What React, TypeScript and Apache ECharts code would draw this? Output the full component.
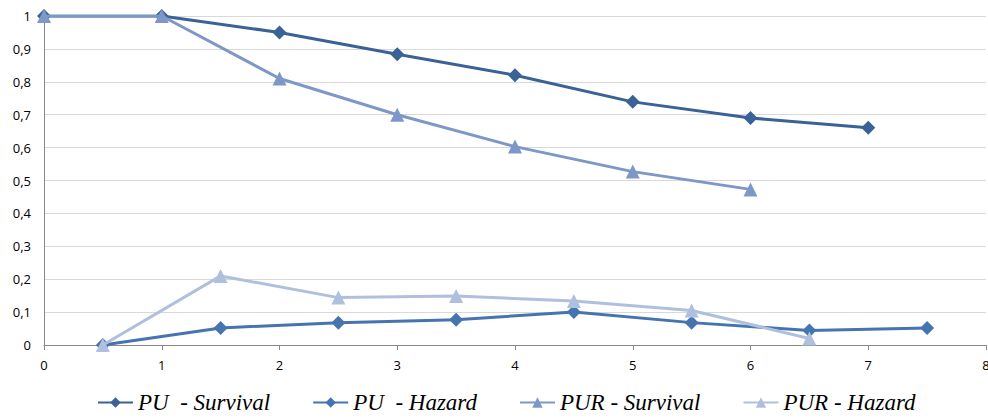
import React, { useEffect, useRef } from "react";
import * as echarts from "echarts";

const seriesNames = ["PU  - Survival", "PU  - Hazard", "PUR - Survival", "PUR - Hazard"];
const survivalX = [0, 1, 2, 3, 4, 5, 6, 7];
const hazardX = [0.5, 1.5, 2.5, 3.5, 4.5, 5.5, 6.5, 7.5];
const puSurvival = [1, 1, 0.95, 0.884, 0.82, 0.739, 0.69, 0.66];
const puHazard = [0, 0.052, 0.068, 0.077, 0.1, 0.068, 0.044, 0.052];
const purSurvival = [1, 1, 0.81, 0.7, 0.603, 0.527, 0.473];
const purHazard = [0, 0.21, 0.144, 0.149, 0.134, 0.105, 0.02];
const colors = ["#3A6296", "#4674B1", "#7D98C8", "#AFC0DE"];

const zip = (xs: number[], ys: number[]) => ys.map((y, i) => [xs[i], y]);

export default function App() {
  const ref = useRef<HTMLDivElement>(null);
  useEffect(() => {
    const chart = echarts.init(ref.current!, null, { renderer: "svg" });
    const mk = (i: number, data: number[][], symbol: string, size: number) => ({
      name: seriesNames[i],
      type: "line",
      data,
      symbol,
      symbolSize: size,
      showAllSymbol: true,
      lineStyle: { width: 3, color: colors[i] },
      itemStyle: { color: colors[i] },
      z: 2 + i,
    });
    chart.setOption({
      animation: false,
      color: colors,
      grid: {
        left: 44,
        right: 2,
        top: 16,
        bottom: 75,
        containLabel: false,
        outerBoundsMode: "none",
      },
      legend: {
        bottom: 1,
        left: 92,
        itemWidth: 35,
        itemHeight: 13,
        itemGap: 42,
        textStyle: {
          fontFamily: "Liberation Serif",
          fontStyle: "italic",
          fontSize: 23,
          color: "#000",
        },
        data: seriesNames,
      },
      xAxis: {
        type: "value",
        min: 0,
        max: 8,
        interval: 1,
        axisLine: { show: true, lineStyle: { color: "#888", width: 1 } },
        axisTick: { show: true, length: 5, lineStyle: { color: "#888" } },
        splitLine: { show: false },
        axisLabel: { fontFamily: "Open Sans", fontSize: 13, color: "#000", margin: 13 },
      },
      yAxis: {
        type: "value",
        min: 0,
        max: 1,
        interval: 0.1,
        axisLine: { show: true, lineStyle: { color: "#888", width: 1 } },
        axisTick: { show: false },
        splitLine: { show: true, lineStyle: { color: "#D9D9D9", width: 1 } },
        axisLabel: {
          fontFamily: "Open Sans",
          fontSize: 13,
          color: "#000",
          margin: 13,
          formatter: (v: number) => String(Math.round(v * 10) / 10).replace(".", ","),
        },
      },
      series: [
        mk(0, zip(survivalX, puSurvival), "diamond", 14),
        mk(1, zip(hazardX, puHazard), "diamond", 14),
        mk(2, zip(survivalX, purSurvival), "triangle", 14),
        mk(3, zip(hazardX, purHazard), "triangle", 14),
      ],
    });
    return () => chart.dispose();
  }, []);
  return <div ref={ref} style={{ width: 988, height: 420, position: "absolute", left: 0, top: 0 }} />;
}
